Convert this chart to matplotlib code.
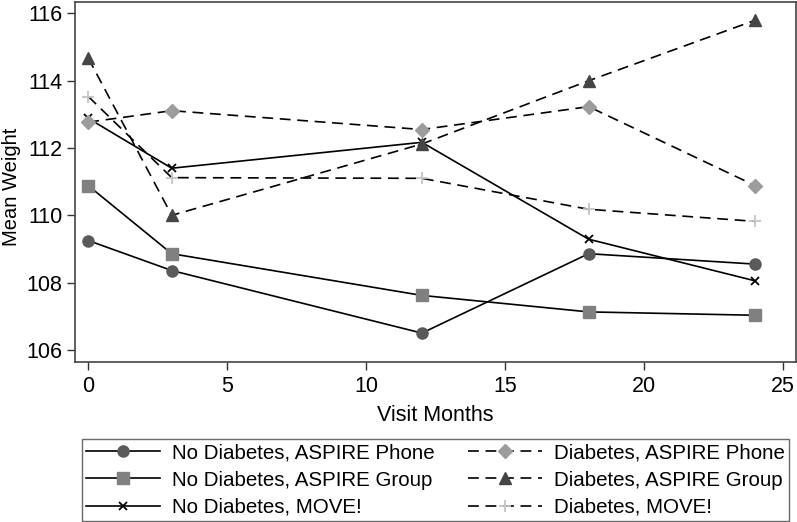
import numpy as np
import matplotlib
matplotlib.use("Agg")
import matplotlib.pyplot as plt

plt.rcParams['font.family'] = ['Liberation Sans', 'DejaVu Sans']

# visit months
months = [0, 3, 12, 18, 24]

# mean weight per group
nd_phone = [109.25, 108.36, 106.50, 108.86, 108.55]
nd_group = [110.88, 108.86, 107.62, 107.13, 107.03]
nd_move = [112.88, 111.40, 112.17, 109.29, 108.05]
d_phone = [112.77, 113.11, 112.55, 113.23, 110.88]
d_group = [114.67, 110.00, 112.12, 114.00, 115.80]
d_move = [113.53, 111.12, 111.10, 110.18, 109.82]

labels = ['No Diabetes, ASPIRE Phone', 'No Diabetes, ASPIRE Group',
          'No Diabetes, MOVE!', 'Diabetes, ASPIRE Phone',
          'Diabetes, ASPIRE Group', 'Diabetes, MOVE!']

fig = plt.figure(figsize=(7.97, 5.22), dpi=100)
ax = fig.add_axes([75/797, 1-361.7/522, (796-75)/797, (361.7-2)/522])

dash = (0, (6.5, 4))
ax.plot(months, nd_phone, '-', color='black', lw=1.2, marker='o', ms=8,
        mfc='#5a5a5a', mec='#5a5a5a', label=labels[0])
ax.plot(months, nd_group, '-', color='black', lw=1.2, marker='s', ms=8,
        mfc='#808080', mec='#808080', label=labels[1])
ax.plot(months, nd_move, '-', color='black', lw=1.2, marker='x', ms=6,
        mew=1.3, mec='black', label=labels[2])
ax.plot(months, d_phone, ls=dash, color='black', lw=1.2, marker='D', ms=7.5,
        mfc='#9c9c9c', mec='#9c9c9c', label=labels[3])
ax.plot(months, d_group, ls=dash, color='black', lw=1.2, marker='^', ms=8.5,
        mfc='#454545', mec='#454545', label=labels[4])
ax.plot(months, d_move, ls=dash, color='black', lw=1.2, marker='+', ms=8,
        mew=1.3, mec='#c4c4c4', label=labels[5])

ax.set_xlim(-0.48, 25.46)
ax.set_ylim(105.65, 116.34)
ax.set_xticks([0, 5, 10, 15, 20, 25])
ax.set_yticks([106, 108, 110, 112, 114, 116])
ax.tick_params(direction='out', length=6, width=1, labelsize=15.5, colors='#333333',
               labelcolor='black', pad=4)
ax.tick_params(axis='y', pad=3)
for s in ax.spines.values():
    s.set_color('#444444')
    s.set_linewidth(1.2)
ax.set_xlabel('Visit Months', fontsize=15.5, labelpad=6)
fig.text(17/797, 1 - 187/522, 'Mean Weight', fontsize=14.5, rotation=90,
         rotation_mode='anchor', ha='center', va='baseline')

fig.legend(loc='lower left', ncol=2, mode='expand', fontsize=14.8,
           bbox_to_anchor=(82/797, 1/522, (789-82)/797, (521-420)/522),
           handlelength=3.6, numpoints=1, frameon=True, fancybox=False,
           edgecolor='#444444', borderaxespad=0, labelspacing=0.4,
           columnspacing=0.8, handletextpad=0.6, borderpad=0.2)

fig.savefig('out.png', dpi=100)
